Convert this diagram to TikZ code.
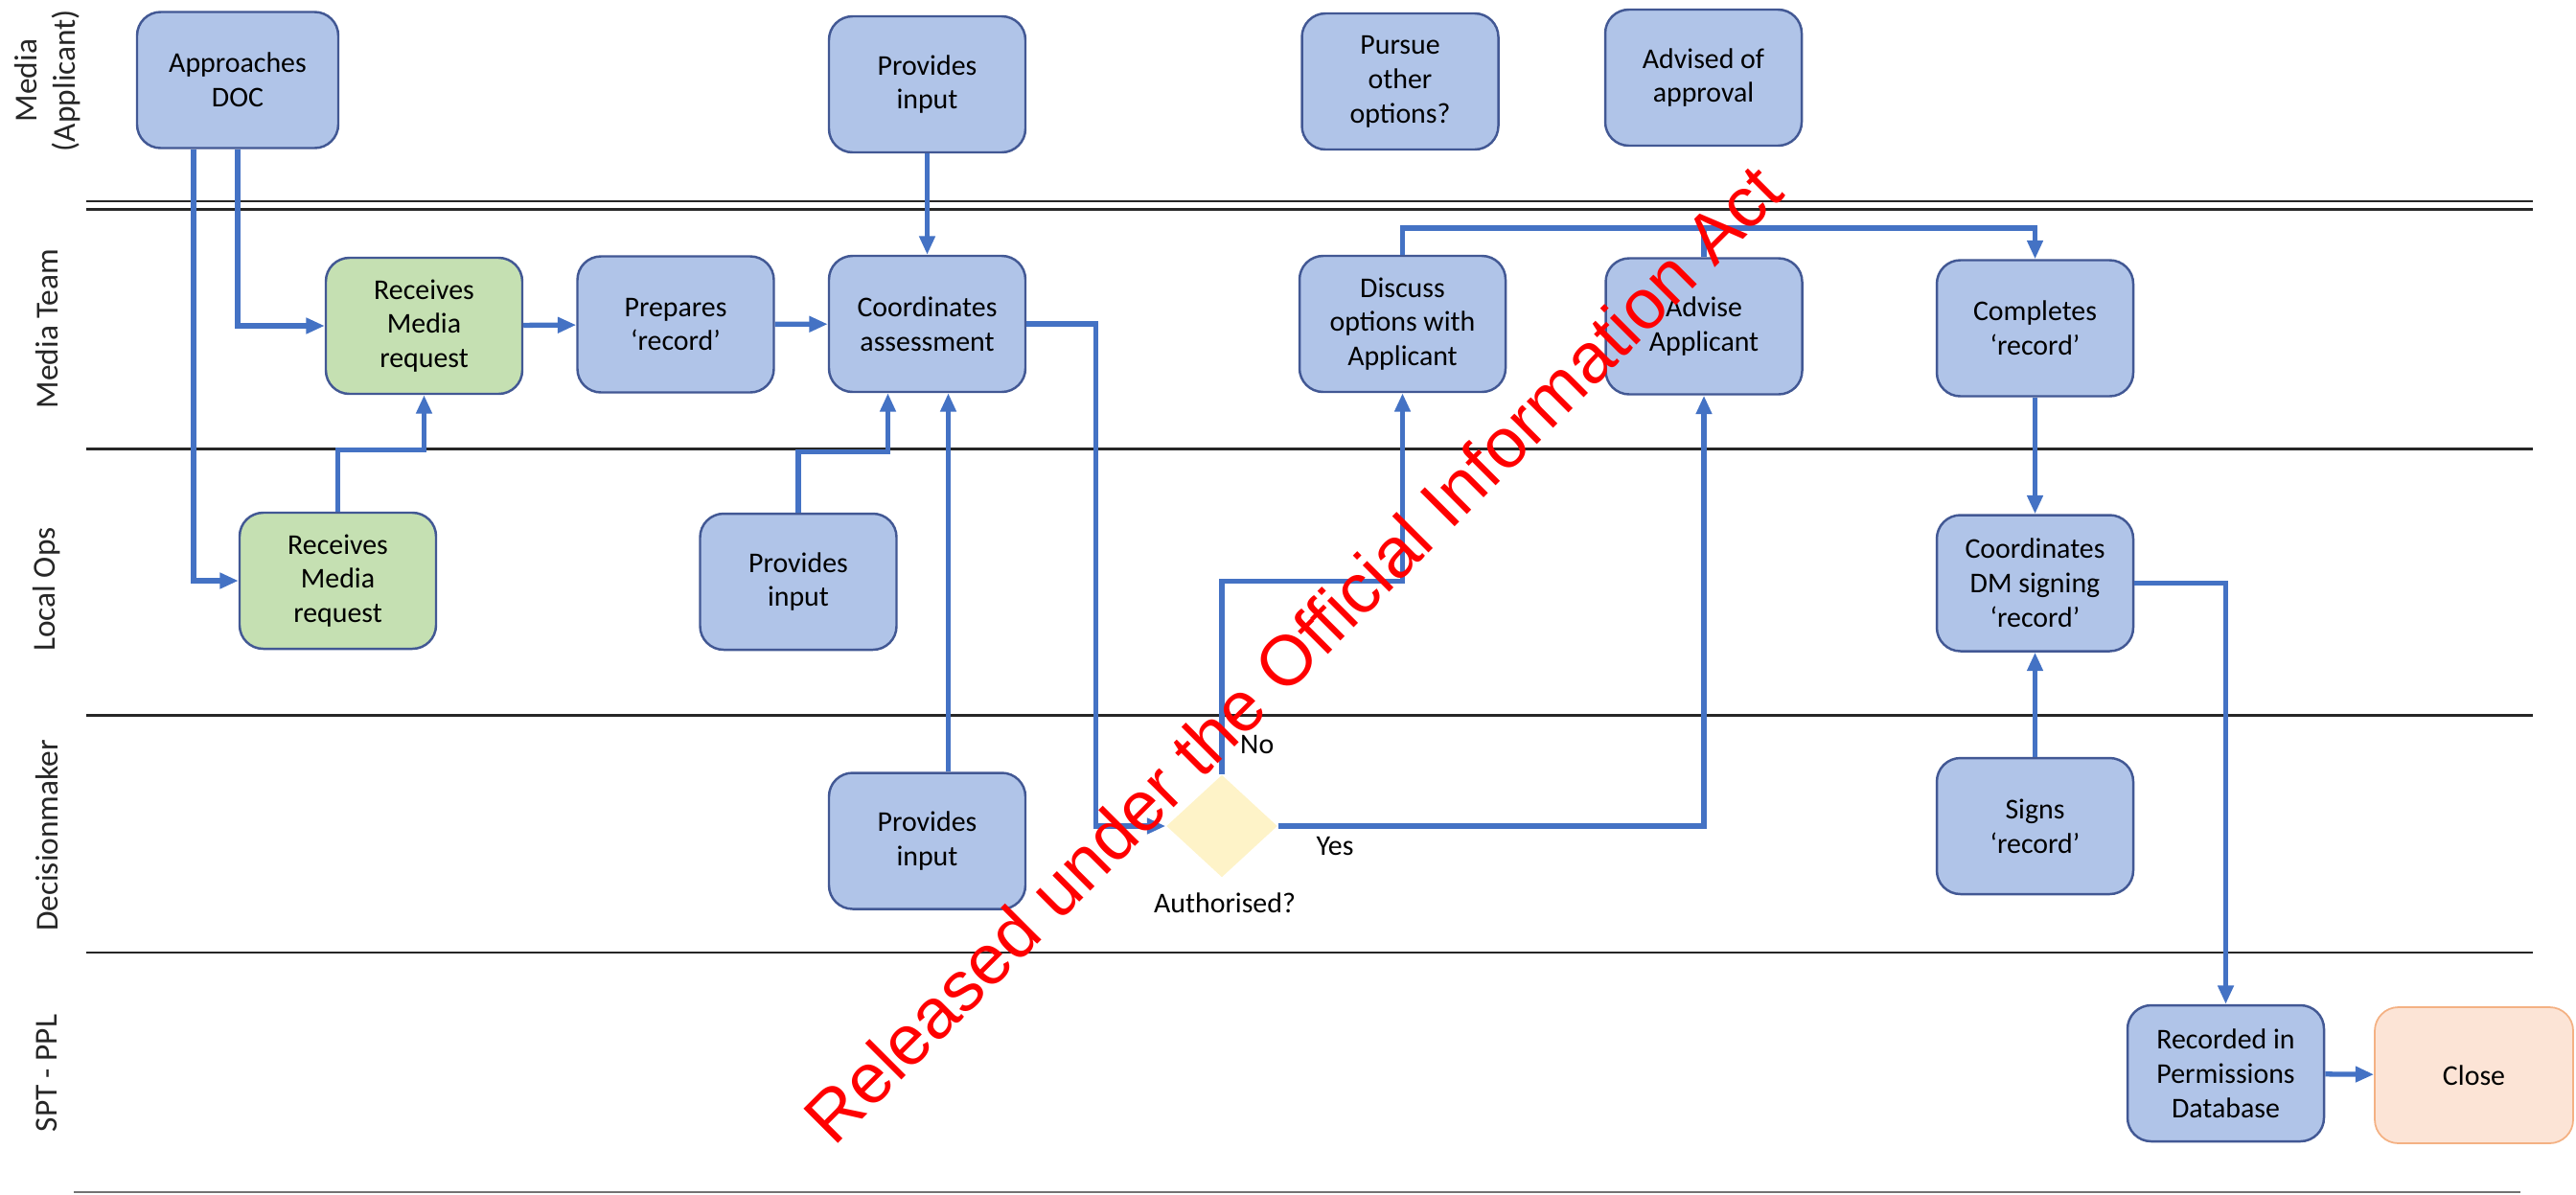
\documentclass[tikz,border=0pt]{standalone}
\usepackage{fontspec}
\setmainfont{Carlito}
\newfontfamily\stampfont{Liberation Sans}
\usepackage{tikz}
\usetikzlibrary{arrows.meta, positioning, shapes.geometric, calc}

\definecolor{taskblue}{RGB}{176,196,232}
\definecolor{taskgreen}{RGB}{197,224,178}
\definecolor{taskpeach}{RGB}{252,228,214}
\definecolor{peachedge}{RGB}{244,177,131}
\definecolor{taskedge}{RGB}{66,88,148}
\definecolor{flowblue}{RGB}{68,114,196}
\definecolor{choiceyellow}{RGB}{254,243,200}

\begin{document}
\begin{tikzpicture}[
    task/.style={draw=taskedge, line width=0.7pt, fill=taskblue, rounded corners=7pt,
        minimum width=2.05cm, minimum height=1.42cm, align=center, inner sep=2pt,
        font=\fontsize{8.5}{10.2}\selectfont},
    flow/.style={-{Triangle[length=5.5pt, width=4.5pt]}, draw=flowblue, line width=1.5pt},
    link/.style={draw=flowblue, line width=1.5pt},
    lane/.style={draw=black!85, line width=0.8pt},
    lanelabel/.style={rotate=90, align=center, text=black!85,
        font=\fontsize{9.5}{11.4}\selectfont},
    note/.style={font=\fontsize{8.5}{10.2}\selectfont, inner sep=1pt}
]
    \useasboundingbox (0,0) rectangle (26.88,-12.46);

    % Swim lanes
    \draw[lane] (0.90,-2.10) -- (26.43,-2.10);
    \draw[lane] (0.90,-2.185) -- (26.43,-2.185);
    \draw[lane] (0.90,-4.685) -- (26.43,-4.685);
    \draw[lane] (0.90,-7.465) -- (26.43,-7.465);
    \draw[lane] (0.90,-9.94) -- (26.43,-9.94);
    \draw[lane, draw=black!55] (0.77,-12.44) -- (26.30,-12.44);

    \node[lanelabel] (laneapp) at (0.50,-0.84) {Media\\(Applicant)};
    \node[lanelabel] (laneteam) at (0.49,-3.43) {Media Team};
    \node[lanelabel] (laneops) at (0.49,-6.15) {Local Ops};
    \node[lanelabel] (lanedm) at (0.49,-8.72) {Decisionmaker};
    \node[lanelabel] (laneppl) at (0.49,-11.20) {SPT - PPL};

    % Media (Applicant)
    \node[task, minimum width=2.1cm] (app) at (2.48,-0.835) {Approaches\\DOC};
    \node[task] (inTop) at (9.675,-0.88) {Provides\\input};
    \node[task] (pursue) at (14.61,-0.85) {Pursue\\other\\options?};
    \node[task] (advised) at (17.775,-0.81) {Advised of\\approval};

    % Media Team
    \node[task, fill=taskgreen] (recvMT) at (4.425,-3.40) {Receives\\Media\\request};
    \node[task] (prep) at (7.05,-3.385) {Prepares\\‘record’};
    \node[task] (coordA) at (9.675,-3.38) {Coordinates\\assessment};
    \node[task, minimum width=2.15cm] (discuss) at (14.635,-3.38) {Discuss\\options with\\Applicant};
    \node[task] (advise) at (17.78,-3.405) {Advise\\Applicant};
    \node[task] (complete) at (21.235,-3.425) {Completes\\‘record’};

    % Local Ops
    \node[task, fill=taskgreen] (recvLO) at (3.525,-6.06) {Receives\\Media\\request};
    \node[task] (inLO) at (8.33,-6.07) {Provides\\input};
    \node[task] (coordDM) at (21.235,-6.085) {Coordinates\\DM signing\\‘record’};

    % Decisionmaker
    \node[task] (inDM) at (9.675,-8.775) {Provides\\input};
    \node[diamond, fill=choiceyellow, minimum width=1.16cm, minimum height=1.07cm,
        inner sep=0pt] (auth) at (12.75,-8.62) {};
    \node[note] (authtext) at (12.78,-9.42) {Authorised?};
    \node[task] (signs) at (21.235,-8.62) {Signs\\‘record’};

    % SPT - PPL
    \node[task] (recorded) at (23.225,-11.20) {Recorded in\\Permissions\\Database};
    \node[task, fill=taskpeach, draw=peachedge, line width=0.5pt, minimum width=2.07cm]
        (close) at (25.815,-11.22) {Close};

    % Arrows
    \draw[flow] (app.south) |- (recvMT.west);
    \draw[flow] ([xshift=-4.6mm]app.south) |- (recvLO.west);
    \draw[flow] (recvLO.north) -- ++(0,0.64) -| (recvMT.south);
    \draw[flow] (recvMT) -- (prep);
    \draw[flow] (prep) -- (coordA);
    \draw[flow] (inTop) -- (coordA);
    \draw[flow] (inLO.north) -- ++(0,0.63) -| ([xshift=-4.1mm]coordA.south);
    \draw[flow] ([xshift=2.2mm]inDM.north) -- ([xshift=2.2mm]coordA.south);
    \draw[flow] (coordA.east) -- ++(0.72,0) |- (auth.west);
    \draw[flow] (auth.north) -- ++(0,2.01) -| (discuss.south);
    \draw[flow] (auth.east) -| (advise.south);
    \coordinate (join) at (17.78,-2.38);
    \draw[flow] (discuss.north) |- (join) -| (complete.north);
    \draw[link] (advise.north) -- (join);
    \draw[flow] (complete) -- (coordDM);
    \draw[flow] (signs) -- (coordDM);
    \draw[flow] (coordDM.east) -| (recorded.north);
    \draw[flow] (recorded) -- (close);

    % Labels
    \node[note, anchor=west] (nolabel) at (12.90,-7.77) {No};
    \node[note] (yeslabel) at (13.93,-8.83) {Yes};

    % Stamp
    \node[text=red, font=\stampfont\fontsize{21}{24}\selectfont, rotate=45,
        anchor=base west, inner sep=0pt] (stamp) at (8.70,-11.98)
        {Released under the Official Information Act};
\end{tikzpicture}
\end{document}
